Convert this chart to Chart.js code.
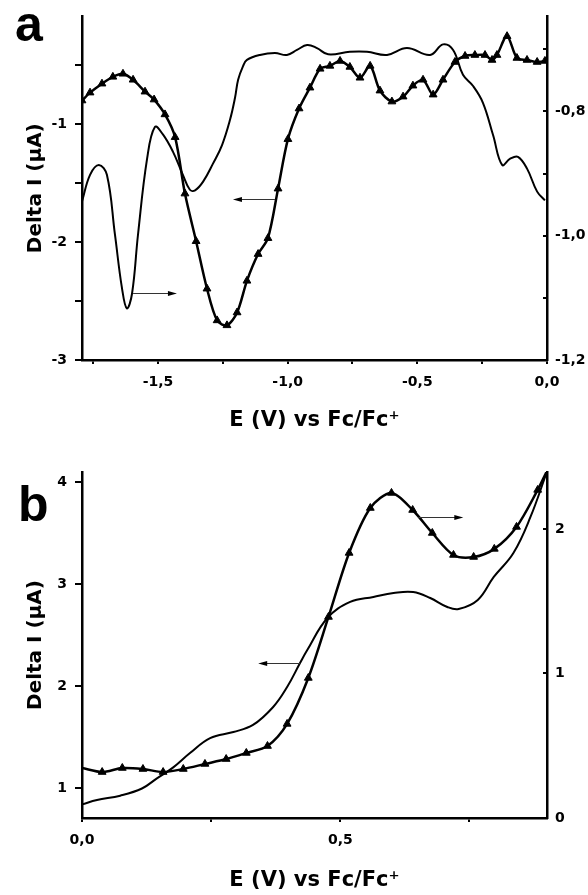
<!DOCTYPE html>
<html>
<head>
<meta charset="utf-8">
<script src="https://cdn.jsdelivr.net/npm/chart.js@4.4.1/dist/chart.umd.min.js"></script>
<style>
    html, body { margin: 0; padding: 0; background: #fff; }
    body { width: 588px; height: 895px; position: relative; overflow: hidden; }
    .panel { position: absolute; left: 0; width: 588px; }
    #wrapA { top: 0; height: 445px; }
    #wrapB { top: 445px; height: 450px; }
    .tag { position: absolute; font: bold 50px "Liberation Sans", Arial, sans-serif; line-height: 1; color: #000; }
</style>
</head>
<body>
<div class="panel" id="wrapA"><canvas id="chartA"></canvas></div>
<div class="panel" id="wrapB"><canvas id="chartB"></canvas></div>
<div class="tag" style="left:15px;top:-1px">a</div>
<div class="tag" style="left:18px;top:479px">b</div>
<script>
// ---- panel a : potential axis and ticks
const xMinA = -1.793;
const xTicksA = [-1.75, -1.5, -1.25, -1.0, -0.75, -0.5, -0.25, 0];
const xLabelsA = [-1.5, -1.0, -0.5, 0];
const yRangeA = [-3, -0.084];
const yTicksA = [-3, -2.5, -2, -1.5, -1, -0.5];
const yLabelsA = [-3, -2, -1];
const y2RangeA = [-1.2, -0.647];
const y2TicksA = [-1.2, -1.1, -1.0, -0.9, -0.8, -0.7];
const y2LabelsA = [-1.2, -1.0, -0.8];

// panel a, curve with triangles (left axis, Delta I in µA)
const triEA = [-1.793, -1.762, -1.716, -1.674, -1.635, -1.596, -1.550, -1.515, -1.473, -1.434,
    -1.396, -1.353, -1.311, -1.272, -1.234, -1.195, -1.157, -1.114, -1.076, -1.037,
    -0.999, -0.956, -0.914, -0.875, -0.837, -0.798, -0.760, -0.721, -0.682, -0.644,
    -0.598, -0.555, -0.517, -0.478, -0.439, -0.401, -0.355, -0.316, -0.278, -0.239,
    -0.212, -0.193, -0.154, -0.116, -0.077, -0.038, -0.008];
const triIA = [-0.798, -0.731, -0.655, -0.597, -0.571, -0.622, -0.723, -0.790, -0.916, -1.109,
    -1.588, -1.992, -2.395, -2.664, -2.706, -2.597, -2.328, -2.101, -1.966, -1.546,
    -1.126, -0.866, -0.689, -0.529, -0.504, -0.462, -0.513, -0.605, -0.504, -0.714,
    -0.807, -0.765, -0.672, -0.622, -0.748, -0.622, -0.471, -0.420, -0.412, -0.412,
    -0.454, -0.412, -0.252, -0.437, -0.454, -0.471, -0.462];

// panel a, plain curve (right axis)
const plainEA = [-1.793, -1.762, -1.728, -1.697, -1.666, -1.639, -1.620, -1.600, -1.577, -1.542,
    -1.512, -1.481, -1.442, -1.404, -1.377, -1.357, -1.326, -1.288, -1.253, -1.222,
    -1.203, -1.191, -1.172, -1.157, -1.107, -1.049, -1.003, -0.964, -0.925, -0.887,
    -0.844, -0.760, -0.694, -0.617, -0.540, -0.451, -0.401, -0.362, -0.324, -0.285,
    -0.247, -0.208, -0.173, -0.142, -0.112, -0.077, -0.038, -0.008];
const plainIA = [-0.945, -0.902, -0.886, -0.902, -0.998, -1.084, -1.117, -1.093, -0.998, -0.876,
    -0.825, -0.837, -0.865, -0.902, -0.926, -0.927, -0.913, -0.884, -0.854, -0.813,
    -0.778, -0.749, -0.727, -0.717, -0.709, -0.706, -0.709, -0.701, -0.693, -0.698,
    -0.708, -0.704, -0.704, -0.709, -0.698, -0.709, -0.692, -0.701, -0.741, -0.759,
    -0.786, -0.838, -0.886, -0.876, -0.873, -0.892, -0.929, -0.943];

// arrows: [fromE, fromI] -> [toE, toI] on the given y axis
const arrowsA = [
    { from: [-1.049, -1.630], to: [-1.211, -1.630], axis: 'y' },
    { from: [-1.596, -1.092], to: [-1.427, -1.092], axis: 'y2' },
];

// ---- panel b
const xMaxB = 0.9;
const xTicksB = [0, 0.25, 0.5, 0.75];
const xLabelsB = [0, 0.5];
const yRangeB = [0.706, 4.098];
const yTicksB = [1, 2, 3, 4];
const y2RangeB = [0, 2.394];
const y2TicksB = [0, 1, 2];

// panel b, plain curve (left axis)
const plainEB = [0, 0.029, 0.074, 0.116, 0.145, 0.176, 0.209, 0.248, 0.293, 0.331,
    0.370, 0.397, 0.422, 0.436, 0.475, 0.519, 0.564, 0.603, 0.641, 0.674,
    0.707, 0.729, 0.766, 0.797, 0.835, 0.868, 0.899];
const plainIB = [0.840, 0.882, 0.925, 0.995, 1.095, 1.200, 1.343, 1.490, 1.549, 1.618,
    1.794, 1.990, 2.225, 2.353, 2.667, 2.824, 2.873, 2.912, 2.922, 2.863,
    2.775, 2.755, 2.843, 3.069, 3.304, 3.657, 4.088];

// panel b, curve with triangles (right axis)
const triEB = [0, 0.039, 0.078, 0.118, 0.157, 0.196, 0.238, 0.279, 0.318, 0.359,
    0.397, 0.438, 0.477, 0.517, 0.558, 0.599, 0.640, 0.678, 0.719, 0.758,
    0.798, 0.841, 0.882, 0.899];
const triIB = [0.346, 0.318, 0.346, 0.339, 0.318, 0.339, 0.374, 0.408, 0.450, 0.498,
    0.651, 0.969, 1.391, 1.834, 2.145, 2.249, 2.131, 1.972, 1.820, 1.806,
    1.862, 2.014, 2.270, 2.394];

const arrowsB = [
    { from: [0.422, 2.225], to: [0.341, 2.225], axis: 'y' },
    { from: [0.651, 2.083], to: [0.738, 2.083], axis: 'y2' },
];

// ---- helpers
const tickFont = { family: '"DejaVu Sans", sans-serif', size: 14, weight: 'bold' };
const xTitleFont = { family: '"DejaVu Sans", sans-serif', size: 21, weight: 'bold' };
const yTitleFont = { family: '"DejaVu Sans", sans-serif', size: 20, weight: 'bold' };
const X_TITLE = 'E (V) vs Fc/Fc\u207A';
const Y_TITLE = 'Delta I (\u00B5A)';

const fmtDec = v => v.toFixed(1).replace('.', ',');
const fmtInt = v => String(Math.round(v));
const zip = (xs, ys) => xs.map((x, i) => ({ x, y: ys[i] }));

// right-axis ticks point inwards, arrows point at their axis
const overlay = {
    id: 'overlay',
    afterDatasetsDraw(chart, args, opts) {
        const ctx = chart.ctx;
        const xs = chart.scales.x;
        const r = chart.scales.y2;
        ctx.save();
        ctx.strokeStyle = '#000';
        ctx.fillStyle = '#000';
        ctx.lineWidth = 2;
        r.ticks.forEach(t => {
            const y = Math.round(r.getPixelForValue(t.value));
            ctx.beginPath();
            ctx.moveTo(r.left, y);
            ctx.lineTo(r.left - opts.tickIn, y);
            ctx.stroke();
        });
        (opts.arrows || []).forEach(a => {
            const ys = chart.scales[a.axis];
            const x1 = xs.getPixelForValue(a.from[0]), y1 = Math.round(ys.getPixelForValue(a.from[1])) + 0.5;
            const x2 = xs.getPixelForValue(a.to[0]), y2 = y1;
            const dir = Math.sign(x2 - x1);
            ctx.strokeStyle = '#333';
            ctx.lineWidth = 1;
            ctx.beginPath();
            ctx.moveTo(x1, y1);
            ctx.lineTo(x2 - dir * 4, y2);
            ctx.stroke();
            ctx.beginPath();
            ctx.moveTo(x2, y2);
            ctx.lineTo(x2 - dir * 9, y2 - 2.5);
            ctx.lineTo(x2 - dir * 9, y2 + 2.5);
            ctx.closePath();
            ctx.fill();
        });
        ctx.restore();
    }
};

function makeChart(canvasId, cfg) {
    const xAxis = {
        type: 'linear',
        position: 'bottom',
        min: cfg.xMin,
        max: cfg.xMax,
        afterBuildTicks: s => { s.ticks = cfg.xTicks.map(v => ({ value: v })); },
        afterFit: s => { s.height = cfg.xHeight; },
        ticks: {
            autoSkip: false, maxRotation: 0, padding: 10, color: '#000', font: tickFont,
            callback: v => cfg.xLabels.includes(v) ? fmtDec(v) : ''
        },
        grid: { drawOnChartArea: false, color: '#000', lineWidth: 2, tickLength: 4 },
        border: { color: '#000', width: 2.5 },
        title: { display: true, text: X_TITLE, color: '#000', font: xTitleFont, padding: { top: 0, bottom: cfg.xTitlePad } }
    };
    const yAxis = {
        type: 'linear',
        position: 'left',
        min: cfg.yRange[0],
        max: cfg.yRange[1],
        afterBuildTicks: s => { s.ticks = cfg.yTicks.map(v => ({ value: v })); },
        afterFit: s => { s.width = 82; },
        ticks: {
            autoSkip: false, padding: 8, color: '#000', font: tickFont,
            callback: v => cfg.yLabels.includes(v) ? fmtInt(v) : ''
        },
        grid: { drawOnChartArea: false, color: '#000', lineWidth: 2, tickLength: 7 },
        border: { color: '#000', width: 2.5 },
        title: { display: true, text: Y_TITLE, color: '#000', font: yTitleFont, padding: { top: 24, bottom: 0 } }
    };
    const y2Axis = {
        type: 'linear',
        position: 'right',
        min: cfg.y2Range[0],
        max: cfg.y2Range[1],
        afterBuildTicks: s => { s.ticks = cfg.y2Ticks.map(v => ({ value: v })); },
        afterFit: s => { s.width = 41; },
        ticks: {
            autoSkip: false, padding: 8, color: '#000', font: tickFont,
            callback: v => cfg.y2Labels.includes(v) ? cfg.y2Fmt(v) : ''
        },
        grid: { drawOnChartArea: false, drawTicks: false, color: '#000' },
        border: { color: '#000', width: 2.5 }
    };

    return new Chart(document.getElementById(canvasId), {
        type: 'line',
        data: { datasets: cfg.datasets },
        options: {
            responsive: true,
            maintainAspectRatio: false,
            animation: false,
            devicePixelRatio: 1,
            events: [],
            layout: { padding: { top: cfg.top, left: 0, right: 0, bottom: 0 } },
            scales: { x: xAxis, y: yAxis, y2: y2Axis },
            plugins: {
                legend: { display: false },
                tooltip: { enabled: false },
                overlay: { arrows: cfg.arrows, tickIn: 4 }
            }
        },
        plugins: [overlay]
    });
}

const lineStyle = { borderColor: '#000', backgroundColor: '#000', fill: false };

makeChart('chartA', {
    top: 13, xHeight: 85, xTitlePad: 12,
    xMin: xMinA, xMax: 0, xTicks: xTicksA, xLabels: xLabelsA,
    yRange: yRangeA, yTicks: yTicksA, yLabels: yLabelsA,
    y2Range: y2RangeA, y2Ticks: y2TicksA, y2Labels: y2LabelsA, y2Fmt: fmtDec,
    arrows: arrowsA,
    datasets: [
        {
            ...lineStyle, label: 'plain', yAxisID: 'y2', data: zip(plainEA, plainIA),
            borderWidth: 2, pointRadius: 0, tension: 0.4
        },
        {
            ...lineStyle, label: 'triangles', yAxisID: 'y', data: zip(triEA, triIA),
            borderWidth: 2.5, pointStyle: 'triangle', pointRadius: 4.5,
            pointBackgroundColor: '#000', pointBorderColor: '#000', pointBorderWidth: 1, tension: 0.3
        }
    ]
});

makeChart('chartB', {
    top: 27, xHeight: 77, xTitlePad: 2,
    xMin: 0, xMax: xMaxB, xTicks: xTicksB, xLabels: xLabelsB,
    yRange: yRangeB, yTicks: yTicksB, yLabels: yTicksB,
    y2Range: y2RangeB, y2Ticks: y2TicksB, y2Labels: y2TicksB, y2Fmt: fmtInt,
    arrows: arrowsB,
    datasets: [
        {
            ...lineStyle, label: 'plain', yAxisID: 'y', data: zip(plainEB, plainIB),
            borderWidth: 2, pointRadius: 0, tension: 0.4
        },
        {
            ...lineStyle, label: 'triangles', yAxisID: 'y2', data: zip(triEB, triIB),
            borderWidth: 2.5, pointStyle: 'triangle',
            pointRadius: c => (c.dataIndex === 0 || c.dataIndex === triEB.length - 1) ? 0 : 4.5,
            pointBackgroundColor: '#000', pointBorderColor: '#000', pointBorderWidth: 1, tension: 0.3
        }
    ]
});
</script>
</body>
</html>
